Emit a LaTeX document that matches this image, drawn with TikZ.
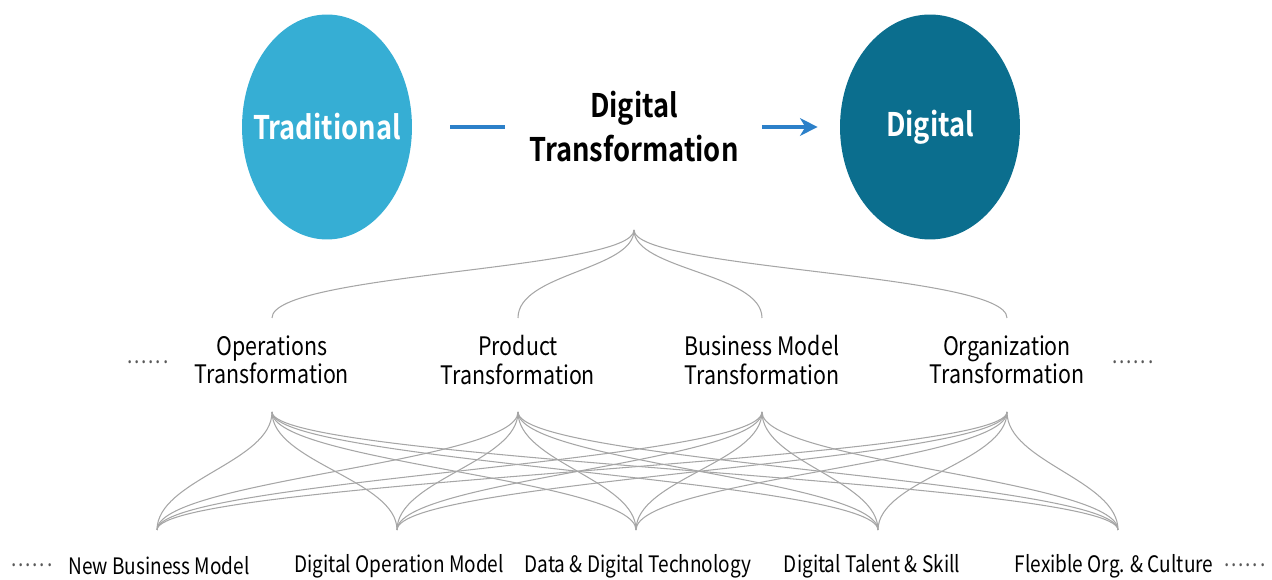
\documentclass[tikz,border=0pt]{standalone}
\usepackage{fontspec}
\setmainfont{Noto Sans CJK KR}[BoldFont={Noto Sans CJK KR Bold}, FakeStretch=0.84]
\usetikzlibrary{arrows.meta,shapes.geometric}

\definecolor{tradblue}{HTML}{36AED4}
\definecolor{digiteal}{HTML}{0B6E8E}
\definecolor{flowblue}{HTML}{2C80C9}
\definecolor{linkgray}{HTML}{A6A6A6}

\begin{document}
\begin{tikzpicture}[x=0.02cm,y=-0.02cm,
  stage/.style={ellipse, text=white, font=\bfseries\fontsize{18.5}{22}\selectfont,
    minimum height=4.5cm, inner xsep=-0.4cm, inner ysep=0pt},
  title/.style={font=\bfseries\fontsize{18.5}{25}\selectfont, align=center, inner sep=0pt},
  area/.style={font=\fontsize{14.5}{16}\selectfont, align=center, inner sep=0pt},
  enabler/.style={font=\fontsize{12.9}{16}\selectfont, inner sep=0pt},
  more/.style={font=\fontsize{13}{14}\selectfont, text=black!65, inner sep=0pt},
  flow/.style={flowblue, line width=1.9pt},
  link/.style={linkgray, line width=0.6pt}]
  \useasboundingbox (0,0) rectangle (1272,580);

  % Top row
  \node[stage, fill=tradblue, minimum width=3.4cm] (trad) at (327,127) {Traditional};
  \node[stage, fill=digiteal, minimum width=3.6cm] (digi) at (930,127) {Digital};
  \node[title] (dt) at (634,127) {Digital\\Transformation};
  \draw[flow, shorten <=0.76cm, shorten >=0.48cm] (trad) -- (dt);
  \draw[flow, -{Stealth[length=10pt,width=10pt,inset=3pt]}, shorten <=0.46cm, shorten >=0.44cm] (dt) -- (digi);

  % Transformation areas
  \coordinate (hub) at (634,230);
  \foreach \name/\x/\txt in {op/272/{Operations\\Transformation},
      pt/518/{Product\\Transformation},
      bm/762/{Business Model\\Transformation},
      ot/1007/{Organization\\Transformation}} {
    \node[area] (\name) at (\x,360) {\txt};
    \coordinate (\name-in) at (\x,318);
    \coordinate (\name-out) at (\x,412);
    \draw[link] (hub) .. controls +(0,40) and +(0,-45) .. (\name-in);
  }
  \node[more] (moreL) at (148,362) {.\kern1pt.\kern1pt.\kern1pt.\kern1pt.\kern1pt.};
  \node[more] (moreR) at (1133,362) {.\kern1pt.\kern1pt.\kern1pt.\kern1pt.\kern1pt.};

  % Enablers
  \foreach \name/\x/\txt in {nbm/159/New Business Model,
      dom/399/Digital Operation Model,
      ddt/638/{Data \& Digital Technology},
      dts/872/{Digital Talent \& Skill},
      foc/1114/{Flexible Org. \& Culture}} {
    \node[enabler] (\name) at (\x,566) {\txt};
  }
  \foreach \name/\x in {nbm/157,dom/397,ddt/636,dts/878,foc/1118}
    \coordinate (\name-in) at (\x,530);
  \node[more] (moreBL) at (32,565) {.\kern1pt.\kern1pt.\kern1pt.\kern1pt.\kern1pt.};
  \node[more] (moreBR) at (1245,565) {.\kern1pt.\kern1pt.\kern1pt.\kern1pt.\kern1pt.};

  % Links
  \foreach \a in {op,pt,bm,ot}
    \foreach \b in {nbm,dom,ddt,dts,foc}
      \draw[link] (\a-out) .. controls +(0,50) and +(0,-50) .. (\b-in);
\end{tikzpicture}
\end{document}
